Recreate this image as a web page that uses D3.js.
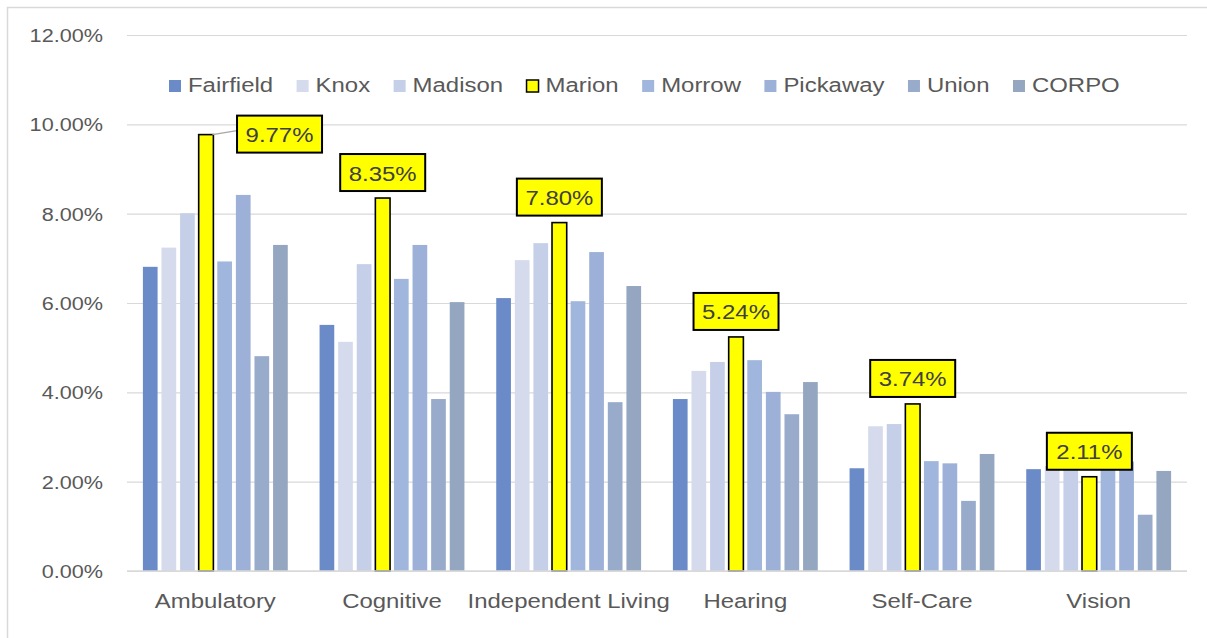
<!DOCTYPE html>
<html>
<head>
<meta charset="utf-8">
<script src="https://cdn.jsdelivr.net/npm/d3@7"></script>
<style>
  body { margin: 0; background: #fff; }
  text { font-family: "Liberation Sans", Arial, sans-serif; }
</style>
</head>
<body>
<div id="chart"></div>
<script>
const categories = ["Ambulatory", "Cognitive", "Independent Living", "Hearing", "Self-Care", "Vision"];
const counties = ["Fairfield", "Knox", "Madison", "Marion", "Morrow", "Pickaway", "Union", "CORPO"];
const fairfield = [6.81, 5.51, 6.11, 3.85, 2.30, 2.28];
const knox      = [7.24, 5.13, 6.96, 4.48, 3.24, 2.35];
const madison   = [8.01, 6.87, 7.34, 4.68, 3.29, 2.40];
const marion    = [9.77, 8.35, 7.80, 5.24, 3.74, 2.11];
const morrow    = [6.93, 6.54, 6.04, 4.72, 2.46, 2.50];
const pickaway  = [8.42, 7.30, 7.14, 4.01, 2.41, 2.45];
const union     = [4.81, 3.85, 3.78, 3.51, 1.57, 1.26];
const corpo     = [7.30, 6.02, 6.38, 4.23, 2.62, 2.24];
const yTicks = [0, 2, 4, 6, 8, 10, 12];

const series = [fairfield, knox, madison, marion, morrow, pickaway, union, corpo];
const colors = ["#6b8ac8", "#d5daec", "#c5cfe8", "#ffff00", "#a0b6dc", "#9cb0d8", "#99abcb", "#95a6c0"];

const W = 1207, H = 638;
const margin = { top: 35, right: 20, bottom: 67, left: 127 };
const sx = 1.14; // text in the picture is a bit wider than normal

const svg = d3.select("#chart").append("svg")
  .attr("width", W).attr("height", H);

// outer frame
svg.append("rect")
  .attr("x", 7.5).attr("y", 7.5)
  .attr("width", W).attr("height", H)
  .attr("fill", "none").attr("stroke", "#d9d9d9").attr("stroke-width", 1.5);

const x0 = d3.scaleBand()
  .domain(categories)
  .range([margin.left, W - margin.right])
  .paddingInner(0.18).paddingOuter(0.09);

const x1 = d3.scaleBand()
  .domain(counties)
  .range([0, x0.bandwidth()])
  .paddingInner(0.21);

const y = d3.scaleLinear()
  .domain([0, 12])
  .range([H - margin.bottom, margin.top]);

// grid + y labels
const yAxis = svg.append("g")
  .attr("transform", "translate(" + margin.left + ",0)")
  .call(d3.axisLeft(y).tickValues(yTicks)
    .tickSize(-(W - margin.left - margin.right))
    .tickFormat(d => d.toFixed(2) + "%")
    .tickPadding(24));
yAxis.select(".domain").remove();
yAxis.selectAll(".tick line").attr("stroke", "#d9d9d9").attr("stroke-width", 1.2);
yAxis.selectAll(".tick text")
  .attr("fill", "#595959")
  .style("font-size", "19px")
  .attr("dy", "0.35em")
  .attr("transform", "scale(" + sx + ",1)")
  .attr("x", -24 / sx);

// bars
const groups = svg.append("g").selectAll("g")
  .data(categories)
  .join("g")
  .attr("transform", d => "translate(" + x0(d) + ",0)");

groups.selectAll("rect")
  .data((c, ci) => counties.map((k, si) => ({ county: k, si: si, ci: ci, v: series[si][ci] })))
  .join("rect")
  .attr("x", d => x1(d.county))
  .attr("y", d => y(d.v))
  .attr("width", x1.bandwidth())
  .attr("height", d => y(0) - y(d.v))
  .attr("fill", d => colors[d.si])
  .attr("stroke", d => d.county === "Marion" ? "#000" : "none")
  .attr("stroke-width", 1.6);

// baseline
svg.append("line")
  .attr("x1", margin.left).attr("x2", W - margin.right)
  .attr("y1", y(0)).attr("y2", y(0))
  .attr("stroke", "#d9d9d9").attr("stroke-width", 1.5);

// category labels
svg.append("g").selectAll("text")
  .data(categories)
  .join("text")
  .attr("transform", d => "translate(" + (x0(d) + x0.bandwidth() / 2) + "," + (y(0) + 37) + ") scale(" + sx + ",1)")
  .attr("text-anchor", "middle")
  .attr("fill", "#595959")
  .style("font-size", "21px")
  .text(d => d);

// Marion data labels
const boxW = 85, boxH = 37;
const labels = svg.append("g").selectAll("g")
  .data(categories)
  .join("g")
  .attr("transform", (c, i) => {
    const cx = x0(c) + x1("Marion") + x1.bandwidth() / 2;
    const top = y(marion[i]);
    if (i === 0) return "translate(" + (cx + 31) + "," + (top - 19) + ")";
    return "translate(" + (cx - boxW / 2) + "," + (top - 7 - boxH) + ")";
  });

labels.filter((c, i) => i === 0).append("line")
  .attr("x1", -31 + x1.bandwidth() / 2 - 1).attr("y1", 19)
  .attr("x2", 0).attr("y2", 15)
  .attr("stroke", "#a6a6a6").attr("stroke-width", 1.2);

labels.append("rect")
  .attr("width", boxW).attr("height", boxH)
  .attr("fill", "#ffff00").attr("stroke", "#000").attr("stroke-width", 2);

labels.append("text")
  .attr("transform", "translate(" + boxW / 2 + "," + (boxH / 2 + 8) + ") scale(" + sx + ",1)")
  .attr("text-anchor", "middle")
  .attr("fill", "#404040")
  .style("font-size", "21px")
  .text((c, i) => marion[i].toFixed(2) + "%");

// legend
const legend = svg.append("g").attr("transform", "translate(169,92)");
let lx = 0;
counties.forEach((k, i) => {
  const item = legend.append("g").attr("transform", "translate(" + lx + ",0)");
  item.append("rect")
    .attr("x", 0).attr("y", -12).attr("width", 12).attr("height", 12)
    .attr("fill", colors[i])
    .attr("stroke", k === "Marion" ? "#000" : "none")
    .attr("stroke-width", 1.5);
  const t = item.append("text")
    .attr("transform", "translate(19,0) scale(" + sx + ",1)")
    .attr("fill", "#595959")
    .style("font-size", "21px")
    .text(k);
  lx += 19 + t.node().getComputedTextLength() * sx + 23.5;
});
</script>
</body>
</html>
